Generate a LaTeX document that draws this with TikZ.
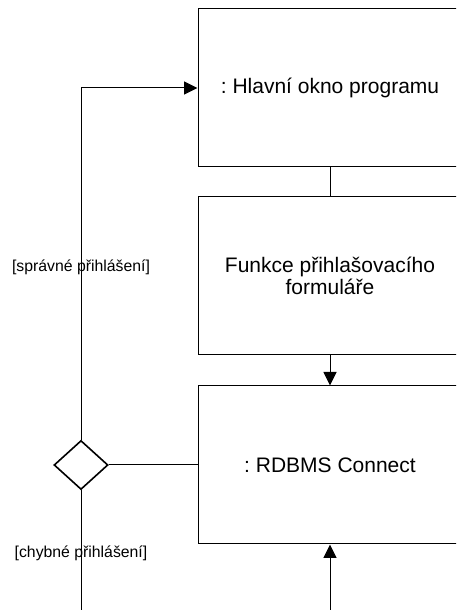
\documentclass[tikz,border=0pt]{standalone}
\usepackage{fontspec}
\setmainfont{Liberation Sans}
\usetikzlibrary{shapes.geometric,arrows.meta}
\frenchspacing

\begin{document}
\begin{tikzpicture}[x=1pt,y=1pt,
  objbox/.style={draw, line width=1pt, minimum width=264pt, minimum height=158pt,
    inner sep=0pt, align=center, font=\fontsize{21}{22.5}\selectfont},
  decision/.style={draw, diamond, line width=1.6pt, minimum width=54pt,
    minimum height=49pt, inner sep=0pt},
  flow/.style={line width=1pt},
  arr/.style={flow, -{Triangle[length=13.5pt,width=13pt]}},
  guard/.style={font=\fontsize{15.8}{18}\selectfont, inner sep=0pt}
]
\useasboundingbox (0,0) rectangle (456,610);
\clip (0,0) rectangle (456,610);

% object nodes
\node[objbox] (main)  at (330,522) {: Hlavní okno programu};
\node[objbox] (login) at (330,334) {Funkce přihlašovacího\\formuláře};
\node[objbox] (rdbms) at (330,145) {: RDBMS Connect};

% decision
\node[decision] (dec) at (81,145) {};

% free ends at the lower edge
\coordinate (inflow) at (330,-2);
\coordinate (failout) at (81,-2);

% connectors
\draw[flow] (main.south) -- (login.north);
\draw[arr] (login.south) -- (rdbms.north);
\draw[arr] (inflow) -- (rdbms.south);
\draw[flow] (dec.east) -- (rdbms.west);
\draw[arr] (dec.north) |- (main.west);
\draw[flow] (dec.south) -- (failout);

% guards
\node[guard] (okguard) at (81,343) {[správné přihlášení]};
\node[guard] (failguard) at (81,57) {[chybné přihlášení]};
\end{tikzpicture}
\end{document}
